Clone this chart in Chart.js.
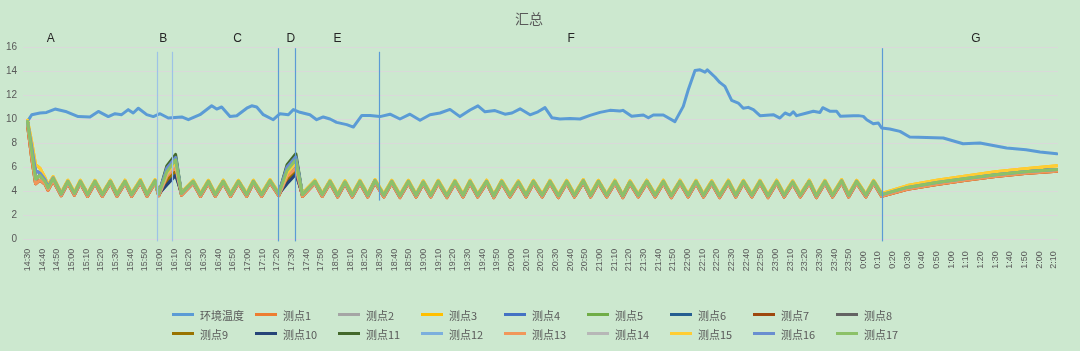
<!DOCTYPE html>
<html><head><meta charset="utf-8">
<script src="https://cdn.jsdelivr.net/npm/chart.js@4.4.1/dist/chart.umd.min.js"></script>
<style>
html,body{margin:0;padding:0;background:#CCE8CF;}
#wrap{position:relative;width:1080px;height:351px;overflow:hidden;background:#CCE8CF;}
#legend{position:absolute;left:172px;top:305px;width:760px;font-family:"Noto Sans CJK SC","Noto Sans",sans-serif;font-size:11px;color:#595959;}
.row{display:flex;height:19px;align-items:center;}
.item{width:83px;display:flex;align-items:center;flex:none;white-space:nowrap;}
.sw{width:22px;height:3px;margin-right:6px;flex:none;}
</style></head>
<body><div id="wrap"><canvas id="c" width="1080" height="351"></canvas><div id="legend"></div></div>
<script>
// ---- tick labels (every 10 minutes from 14:30) ----
const tickLabels = ['14:30','14:40','14:50','15:00','15:10','15:20','15:30','15:40','15:50','16:00','16:10','16:20','16:30','16:40','16:50','17:00','17:10','17:20','17:30','17:40','17:50','18:00','18:10','18:20','18:30','18:40','18:50','19:00','19:10','19:20','19:30','19:40','19:50','20:00','20:10','20:20','20:30','20:40','20:50','21:00','21:10','21:20','21:30','21:40','21:50','22:00','22:10','22:20','22:30','22:40','22:50','23:00','23:10','23:20','23:30','23:40','23:50','0:00','0:10','0:20','0:30','0:40','0:50','1:00','1:10','1:20','1:30','1:40','1:50','2:00','2:10'];

const seriesNames = ['环境温度','测点1','测点2','测点3','测点4','测点5','测点6','测点7','测点8','测点9','测点10','测点11','测点12','测点13','测点14','测点15','测点16','测点17'];
const seriesColors = ['#5B9BD5','#ED7D31','#A5A5A5','#FFC000','#4472C4','#70AD47','#255E91','#9E480E','#636363','#997300','#264478','#43682B','#7CAFDD','#F1975A','#B7B7B7','#FFCD33','#698ED0','#8CC168'];

// ---- ambient temperature (minutes after 14:30, °C) ----
const ambT = [0,2.9,8.5,13,18.8,26.7,34.6,42.6,48.3,55.1,59.7,64.2,68.7,72.1,75.6,81.3,85.8,90.4,96,105.2,109.7,117.6,125.6,129,132.4,138.1,142.7,149.5,152.9,156.3,160.8,167.6,172.2,177.9,181.3,185.8,192.6,197.2,201.7,206.3,210.8,217.7,222.2,228,233.6,240.4,247.2,254,260.8,267.7,274.5,281.3,288.1,294.9,301.8,307.2,312,318.8,325.6,330.4,335.9,342.7,348.1,352.9,357.7,363.1,369.9,376.8,383.6,390.4,397.2,404,406,412,420,423.4,426.8,433.6,441.5,447.2,450.6,455.2,458.6,462,463.6,468.8,472.1,475.6,480.2,484.7,488.1,491.5,495,499.5,508.6,513.1,516.6,520,522.2,524.5,531.4,535.9,540.4,542.3,547.4,551.8,554.4,563.2,566.6,570,572.3,576.8,580.2,582.5,588,595,601.6,624.5,638,649.5,667.7,681,690.5,702];
const ambV = [9.8,10.36,10.5,10.55,10.83,10.6,10.2,10.17,10.63,10.2,10.44,10.36,10.78,10.5,10.9,10.36,10.2,10.44,10.08,10.17,9.94,10.36,11.1,10.83,11.0,10.2,10.27,10.9,11.1,11.0,10.36,9.94,10.44,10.36,10.78,10.56,10.36,9.94,10.17,10.0,9.72,9.53,9.33,10.3,10.3,10.2,10.4,10.0,10.4,9.9,10.35,10.5,10.8,10.2,10.75,11.1,10.6,10.7,10.4,10.5,10.85,10.35,10.6,10.95,10.1,10.0,10.05,10.0,10.3,10.55,10.72,10.67,10.72,10.22,10.33,10.1,10.33,10.33,9.78,11.05,12.44,14.05,14.1,13.9,14.1,13.5,13.05,12.72,11.55,11.33,10.9,10.97,10.78,10.28,10.36,10.08,10.5,10.33,10.6,10.28,10.5,10.64,10.55,10.94,10.64,10.64,10.22,10.28,10.28,10.22,9.94,9.6,9.67,9.25,9.17,8.97,8.5,8.42,7.94,8.0,7.58,7.44,7.25,7.1];

// ---- probe vertex times (minutes after 14:30) ----
const probeT = [0,3,5.5,8.5,12,14,17.5,
 23,27.5,32,36,41,46,51,56.5,61,66.5,71,77,81.5,87,89.5,
 95,101,105,
 113,118,123.3,128,133.5,138.5,143.8,149.5,154,159.7,165.4,171.3,
 177,183,187.5,
 196,201,206.3,211.5,216.5,221.5,226.7,232,237,243,248.4,254,259.7,265,269.9,275,280.1,286,291.5,297,301.8,307,313.1,318,323.4,329,334.7,340,345,351,356.3,362,367.7,373,379,384,389.3,395,400.6,406,410.9,416.5,422.3,428,433.6,439,445,450.5,455.9,461,466.6,472,477.9,483,488.2,494,499.5,505,510.9,516,521.8,527,533.1,538,543.8,549,555.2,560,565.4,571.7,577,582.5,
 600,620,640,660,680,702];

// start (initial cooling drop)
const startHigh = [9.9,8.0,6.2,5.9,5.1,4.5,5.2];
const startBlue = [9.8,7.6,5.7,5.5,4.95,4.35,5.1];
const startMid  = [9.8,7.2,5.0,5.3,4.8,4.25,5.05];
const startLow  = [9.5,6.6,4.6,4.9,4.55,4.05,4.85];
// zigzag before B
const zigAHigh = [3.85,4.9,3.9,4.9,3.8,4.9,3.8,4.9,3.8,4.9,3.8,4.95,3.8,4.95,3.85];
const zigAMid  = [3.75,4.8,3.8,4.8,3.7,4.8,3.7,4.8,3.7,4.8,3.7,4.85,3.7,4.85,3.75];
const zigALow  = [3.6,4.65,3.65,4.65,3.55,4.65,3.55,4.65,3.55,4.65,3.55,4.7,3.55,4.7,3.6];
// B event (rise, peak, after) per probe 1..17
const bRise  = [5.2,5.4,5.5,5.9,5.6,4.6,5.0,5.3,4.9,4.5,6.1,5.8,5.2,5.4,5.5,5.9,5.6];
const bPeak  = [6.0,6.3,6.4,6.8,6.6,5.5,5.8,6.2,5.7,5.3,7.05,6.7,6.0,6.3,6.4,6.8,6.6];
const bAfter = [3.65,3.8,3.9,3.8,3.8,3.8,3.65,3.8,3.8,3.8,3.8,3.8,3.65,3.8,3.9,3.8,3.8];
// zigzag between B and D
const zigBHigh = [4.9,3.8,4.9,3.8,4.9,3.8,4.9,3.8,4.9,3.8,4.95,3.85];
const zigBMid  = [4.8,3.7,4.8,3.7,4.8,3.7,4.8,3.7,4.8,3.7,4.85,3.75];
const zigBLow  = [4.65,3.55,4.65,3.55,4.65,3.55,4.65,3.55,4.65,3.55,4.7,3.6];
// D event
const dRise  = [5.2,5.5,5.5,6.0,5.7,4.7,5.0,5.4,5.0,4.6,6.2,5.9,5.2,5.5,5.5,6.0,5.7];
const dPeak  = [5.9,6.3,6.4,6.85,6.6,5.5,5.8,6.2,5.7,5.4,7.1,6.7,5.9,6.3,6.4,6.85,6.6];
const dAfter = [3.55,3.7,3.8,3.7,3.7,3.7,3.55,3.7,3.7,3.7,3.7,3.7,3.55,3.7,3.8,3.7,3.7];
// zigzag after D until 0:12
const zigCHigh = [4.9,3.8,4.9,3.75,4.85,3.75,4.9,3.75,4.95,3.75,4.9,3.7,4.9,3.75,4.85,3.75,4.9,3.7,4.9,3.75,4.9,3.75,4.9,3.7,4.9,3.75,4.85,3.75,4.9,3.75,4.9,3.7,4.9,3.75,4.95,3.75,4.9,3.75,4.9,3.7,4.85,3.75,4.9,3.75,4.9,3.7,4.9,3.75,4.9,3.75,4.85,3.7,4.9,3.75,4.9,3.75,4.9,3.7,4.9,3.75,4.85,3.75,4.9,3.7,4.9,3.75,4.95,3.75,4.9,3.75,4.9,3.8];
const zigCMid  = [4.8,3.7,4.8,3.65,4.75,3.65,4.8,3.65,4.85,3.65,4.8,3.6,4.8,3.65,4.75,3.65,4.8,3.6,4.8,3.65,4.8,3.65,4.8,3.6,4.8,3.65,4.75,3.65,4.8,3.65,4.8,3.6,4.8,3.65,4.85,3.65,4.8,3.65,4.8,3.6,4.75,3.65,4.8,3.65,4.8,3.6,4.8,3.65,4.8,3.65,4.75,3.6,4.8,3.65,4.8,3.65,4.8,3.6,4.8,3.65,4.75,3.65,4.8,3.6,4.8,3.65,4.85,3.65,4.8,3.65,4.8,3.7];
const zigCLow  = [4.65,3.55,4.65,3.5,4.6,3.5,4.65,3.5,4.7,3.5,4.65,3.45,4.65,3.5,4.6,3.5,4.65,3.45,4.65,3.5,4.65,3.5,4.65,3.45,4.65,3.5,4.6,3.5,4.65,3.5,4.65,3.45,4.65,3.5,4.7,3.5,4.65,3.5,4.65,3.45,4.6,3.5,4.65,3.5,4.65,3.45,4.65,3.5,4.65,3.5,4.6,3.45,4.65,3.5,4.65,3.5,4.65,3.45,4.65,3.5,4.6,3.5,4.65,3.45,4.65,3.5,4.7,3.5,4.65,3.5,4.65,3.55];
// slow warm-up after 0:12
const gHigh = [4.45,4.9,5.25,5.6,5.85,6.1];
const gMid  = [4.3,4.7,5.05,5.35,5.6,5.8];
const gLow  = [4.15,4.55,4.9,5.2,5.45,5.65];

// annotations
const segLetters = ['A','B','C','D','E','F','G'];
const segLetterT = [15.8,92.6,143.3,179.5,211.4,370.7,646.8];
const vlineT = [88.5,98.3,171,182.6,239.7,582.7];
const vlineTop = [15.6,15.6,15.9,15.9,15.6,15.9];
const vlineBottom = [-0.2,-0.2,-0.2,-0.2,3.2,-0.2];

function pts(times, vals){ return times.map((t,i)=>({x:t,y:vals[i]})); }
function probe(k, start, zA, zB, zC, g){
  const vals = [].concat(start, zA, [bRise[k],bPeak[k],bAfter[k]], zB, [dRise[k],dPeak[k],dAfter[k]], zC, g);
  return pts(probeT, vals);
}
const probeData = [
  probe(0,  startLow,  zigALow,  zigBLow,  zigCLow,  gLow),
  probe(1,  startMid,  zigAMid,  zigBMid,  zigCMid,  gMid),
  probe(2,  startHigh, zigAHigh, zigBHigh, zigCHigh, gHigh),
  probe(3,  startBlue, zigAMid,  zigBMid,  zigCMid,  gMid),
  probe(4,  startMid,  zigAMid,  zigBMid,  zigCMid,  gMid),
  probe(5,  startMid,  zigAMid,  zigBMid,  zigCMid,  gMid),
  probe(6,  startLow,  zigALow,  zigBLow,  zigCLow,  gLow),
  probe(7,  startMid,  zigAMid,  zigBMid,  zigCMid,  gMid),
  probe(8,  startMid,  zigAMid,  zigBMid,  zigCMid,  gMid),
  probe(9,  startMid,  zigAMid,  zigBMid,  zigCMid,  gMid),
  probe(10, startMid,  zigAMid,  zigBMid,  zigCMid,  gMid),
  probe(11, startMid,  zigAMid,  zigBMid,  zigCMid,  gMid),
  probe(12, startLow,  zigALow,  zigBLow,  zigCLow,  gLow),
  probe(13, startMid,  zigAMid,  zigBMid,  zigCMid,  gMid),
  probe(14, startHigh, zigAHigh, zigBHigh, zigCHigh, gHigh),
  probe(15, startBlue, zigAMid,  zigBMid,  zigCMid,  gMid),
  probe(16, startMid,  zigAMid,  zigBMid,  zigCMid,  gMid)
];

const datasets = [{label:seriesNames[0], data:pts(ambT, ambV), borderColor:seriesColors[0], backgroundColor:seriesColors[0], borderWidth:3, pointRadius:0, tension:0, order:0, borderJoinStyle:'round', borderCapStyle:'round'}];
probeData.forEach((d,i)=>datasets.push({label:seriesNames[i+1], data:d, borderColor:seriesColors[i+1], backgroundColor:seriesColors[i+1], borderWidth:3, pointRadius:0, tension:0, order:-(i+1), borderJoinStyle:'round', borderCapStyle:'round'}));

const overlay = {
  id:'overlay',
  afterDatasetsDraw(chart){
    const {ctx, scales:{x,y}} = chart;
    ctx.save();
    vlineT.forEach((t,i)=>{
      ctx.strokeStyle = i<2 ? '#9DC3E6' : '#5B9BD5';
      ctx.lineWidth = 1.2;
      const px = Math.round(x.getPixelForValue(t))+0.5;
      ctx.beginPath();
      ctx.moveTo(px, y.getPixelForValue(vlineTop[i]));
      ctx.lineTo(px, y.getPixelForValue(vlineBottom[i]));
      ctx.stroke();
    });
    ctx.restore();
  },
  afterDraw(chart){
    const {ctx, scales:{x,y}, chartArea} = chart;
    ctx.save();
    ctx.fillStyle = '#262626';
    ctx.font = '12px "Liberation Sans", Arial, sans-serif';
    ctx.textAlign = 'center'; ctx.textBaseline = 'middle';
    segLetters.forEach((l,i)=>ctx.fillText(l, x.getPixelForValue(segLetterT[i]), y.getPixelForValue(16.7)));
    ctx.fillStyle = '#595959';
    ctx.font = '9px "Liberation Sans", Arial, sans-serif';
    tickLabels.forEach((l,i)=>{
      ctx.save();
      ctx.translate(x.getPixelForValue(i*10), chartArea.bottom + 21);
      ctx.rotate(-Math.PI/2);
      ctx.fillText(l, 0, 0);
      ctx.restore();
    });
    ctx.restore();
  }
};

const chart = new Chart(document.getElementById('c'), {
  type:'line',
  data:{datasets},
  options:{
    responsive:false, animation:false, parsing:true,
    layout:{padding:{left:0,right:22,top:0,bottom:112}},
    plugins:{
      legend:{display:false}, tooltip:{enabled:false},
      title:{display:true, text:'汇总', color:'#595959', font:{family:'"Noto Sans CJK SC", sans-serif', size:14, weight:'normal'}, padding:{top:10,bottom:20.2}}
    },
    scales:{
      x:{type:'linear', min:-3.07, max:702.74, grid:{display:false}, border:{display:false}, ticks:{display:false},
         afterFit(s){ s.height = 0; }},
      y:{min:0, max:16, ticks:{stepSize:2, color:'#595959', font:{family:'"Liberation Sans", Arial, sans-serif', size:10}, padding:6},
         grid:{color:'#D9D9D9', lineWidth:1, drawTicks:false}, border:{display:false},
         afterFit(s){ s.width = 23; }}
    }
  },
  plugins:[overlay]
});

// HTML legend from datasets
const leg = document.getElementById('legend');
[[0,9],[9,18]].forEach(([a,b])=>{
  const row = document.createElement('div'); row.className='row';
  for(let i=a;i<b;i++){
    const it = document.createElement('div'); it.className='item';
    const sw = document.createElement('span'); sw.className='sw'; sw.style.background = seriesColors[i];
    const tx = document.createElement('span'); tx.textContent = seriesNames[i];
    it.appendChild(sw); it.appendChild(tx); row.appendChild(it);
  }
  leg.appendChild(row);
});
</script></body></html>
